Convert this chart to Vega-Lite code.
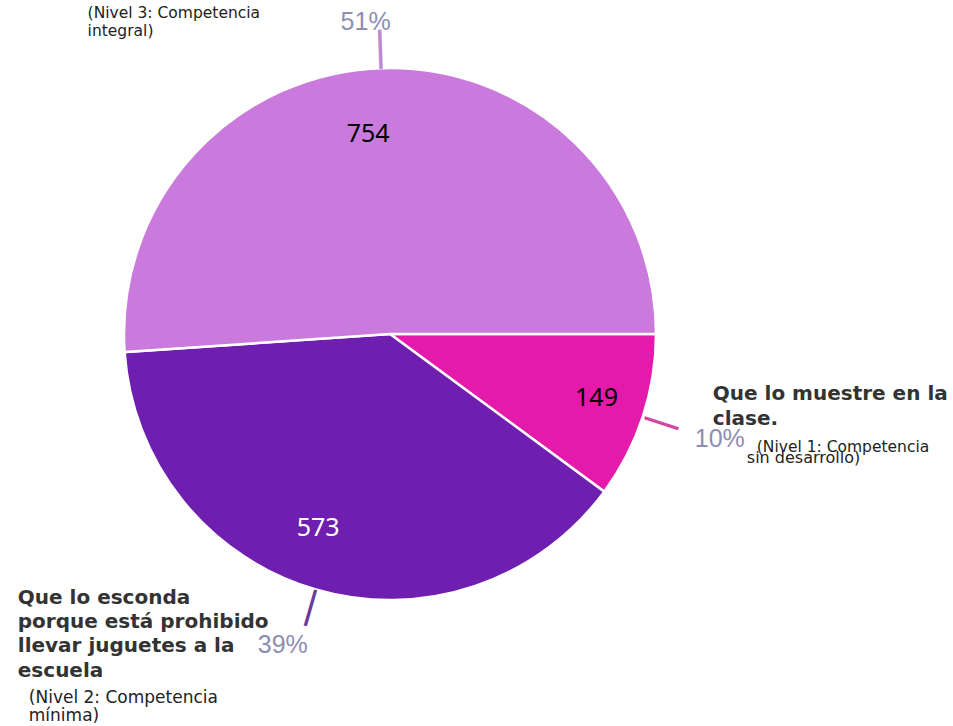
{
  "$schema": "https://vega.github.io/schema/vega-lite/v6.json",
  "width": 780,
  "height": 668,
  "autosize": {"type": "none"},
  "padding": {"left": 0, "top": 0, "right": 173, "bottom": 58},
  "background": "white",
  "config": {"view": {"stroke": null}},
  "data": {
    "values": [
      {"nivel": "N1", "n": 149, "pct": "10%", "respuesta": ["Que lo muestre en la", "clase."], "desc": ["(Nivel 1: Competencia", "sin desarrollo)"]},
      {"nivel": "N2", "n": 573, "pct": "39%", "respuesta": ["Que lo esconda", "porque está prohibido", "llevar juguetes a la", "escuela"], "desc": ["(Nivel 2: Competencia", "mínima)"]},
      {"nivel": "N3", "n": 754, "pct": "51%", "respuesta": [""], "desc": ["(Nivel 3: Competencia", "integral)"]}
    ]
  },
  "encoding": {
    "theta": {"field": "n", "type": "quantitative", "stack": true, "scale": {"range": [1.5708, 7.854]}},
    "order": {"field": "n", "type": "quantitative", "sort": "ascending"}
  },
  "layer": [
    {
      "mark": {"type": "arc", "outerRadius": 266, "stroke": "white", "strokeWidth": 2.5},
      "encoding": {
        "color": {"field": "nivel", "type": "nominal", "scale": {"domain": ["N1", "N2", "N3"], "range": ["#E41BAA", "#6F1FAF", "#C97ADC"]}, "legend": null}
      }
    },
    {
      "mark": {"type": "text", "radius": 200, "dx": -15, "dy": 0, "font": "Noto Sans", "fontSize": 25, "color": "#000000", "baseline": "middle", "align": "center"},
      "encoding": {"text": {"condition": {"test": "datum.nivel === 'N3'", "field": "n", "type": "quantitative"}, "value": ""}}
    },
    {
      "mark": {"type": "text", "radius": 210, "dx": 7, "dy": -1, "font": "Noto Sans", "fontSize": 25, "color": "#000000", "baseline": "middle", "align": "center"},
      "encoding": {"text": {"condition": {"test": "datum.nivel === 'N1'", "field": "n", "type": "quantitative"}, "value": ""}}
    },
    {
      "mark": {"type": "text", "radius": 200, "dx": -16, "dy": 2, "font": "Noto Sans", "fontSize": 25, "color": "#FFFFFF", "baseline": "middle", "align": "center"},
      "encoding": {"text": {"condition": {"test": "datum.nivel === 'N2'", "field": "n", "type": "quantitative"}, "value": ""}}
    },
    {
      "mark": {"type": "text", "radius": 287, "angle": 358, "font": "Liberation Sans", "fontSize": 42, "color": "#BE88D2", "baseline": "middle", "align": "center"},
      "encoding": {"text": {"condition": {"test": "datum.nivel === 'N3'", "value": "|"}, "value": ""}}
    },
    {
      "mark": {"type": "text", "radius": 287, "angle": 108, "font": "Liberation Sans", "fontSize": 38, "color": "#D4479F", "baseline": "middle", "align": "center"},
      "encoding": {"text": {"condition": {"test": "datum.nivel === 'N1'", "value": "|"}, "value": ""}}
    },
    {
      "mark": {"type": "text", "radius": 287, "angle": 196, "font": "Liberation Sans", "fontSize": 40, "color": "#6A3A9C", "baseline": "middle", "align": "center"},
      "encoding": {"text": {"condition": {"test": "datum.nivel === 'N2'", "value": "|"}, "value": ""}}
    },
    {
      "mark": {"type": "text", "radius": 305, "dx": -14, "dy": -7, "font": "Liberation Sans", "fontSize": 25, "color": "#8E8EB2", "baseline": "middle", "align": "center"},
      "encoding": {"text": {"condition": {"test": "datum.nivel === 'N3'", "field": "pct", "type": "nominal"}, "value": ""}}
    },
    {
      "mark": {"type": "text", "radius": 305, "dx": 40, "dy": 10, "font": "Liberation Sans", "fontSize": 25, "color": "#8E8EB2", "baseline": "middle", "align": "center"},
      "encoding": {"text": {"condition": {"test": "datum.nivel === 'N1'", "field": "pct", "type": "nominal"}, "value": ""}}
    },
    {
      "mark": {"type": "text", "radius": 305, "dx": -22, "dy": 18, "font": "Liberation Sans", "fontSize": 25, "color": "#8E8EB2", "baseline": "middle", "align": "center"},
      "encoding": {"text": {"condition": {"test": "datum.nivel === 'N2'", "field": "pct", "type": "nominal"}, "value": ""}}
    },
    {
      "mark": {"type": "text", "radius": 305, "dx": 33, "dy": -29, "font": "DejaVu Sans", "fontWeight": "bold", "fontSize": 20, "lineHeight": 25, "color": "#333333", "baseline": "alphabetic", "align": "left"},
      "encoding": {"text": {"condition": {"test": "datum.nivel === 'N1'", "field": "respuesta", "type": "nominal"}, "value": ""}}
    },
    {
      "mark": {"type": "text", "radius": 305, "dx": -287, "dy": -23, "font": "DejaVu Sans", "fontWeight": "bold", "fontSize": 20, "lineHeight": 24.3, "color": "#333333", "baseline": "alphabetic", "align": "left"},
      "encoding": {"text": {"condition": {"test": "datum.nivel === 'N2'", "field": "respuesta", "type": "nominal"}, "value": ""}}
    },
    {
      "mark": {"type": "text", "radius": 305, "dx": -292, "dy": -11, "font": "DejaVu Sans", "fontSize": 15.5, "lineHeight": 17.5, "color": "#222222", "baseline": "alphabetic", "align": "left"},
      "encoding": {"text": {"condition": {"test": "datum.nivel === 'N3'", "field": "desc", "type": "nominal"}, "value": ""}}
    },
    {
      "mark": {"type": "text", "radius": 305, "dx": -276, "dy": 76, "font": "DejaVu Sans", "fontSize": 17, "lineHeight": 18, "color": "#222222", "baseline": "alphabetic", "align": "left"},
      "encoding": {"text": {"condition": {"test": "datum.nivel === 'N2'", "field": "desc", "type": "nominal"}, "value": ""}}
    },
    {
      "mark": {"type": "text", "radius": 305, "dx": 77, "dy": 23, "font": "DejaVu Sans", "fontSize": 15.5, "color": "#222222", "baseline": "alphabetic", "align": "left"},
      "encoding": {"text": {"condition": {"test": "datum.nivel === 'N1'", "field": "desc[0]", "type": "nominal"}, "value": ""}}
    },
    {
      "mark": {"type": "text", "radius": 305, "dx": 67, "dy": 34, "font": "DejaVu Sans", "fontSize": 16, "color": "#222222", "baseline": "alphabetic", "align": "left"},
      "encoding": {"text": {"condition": {"test": "datum.nivel === 'N1'", "field": "desc[1]", "type": "nominal"}, "value": ""}}
    }
  ]
}
